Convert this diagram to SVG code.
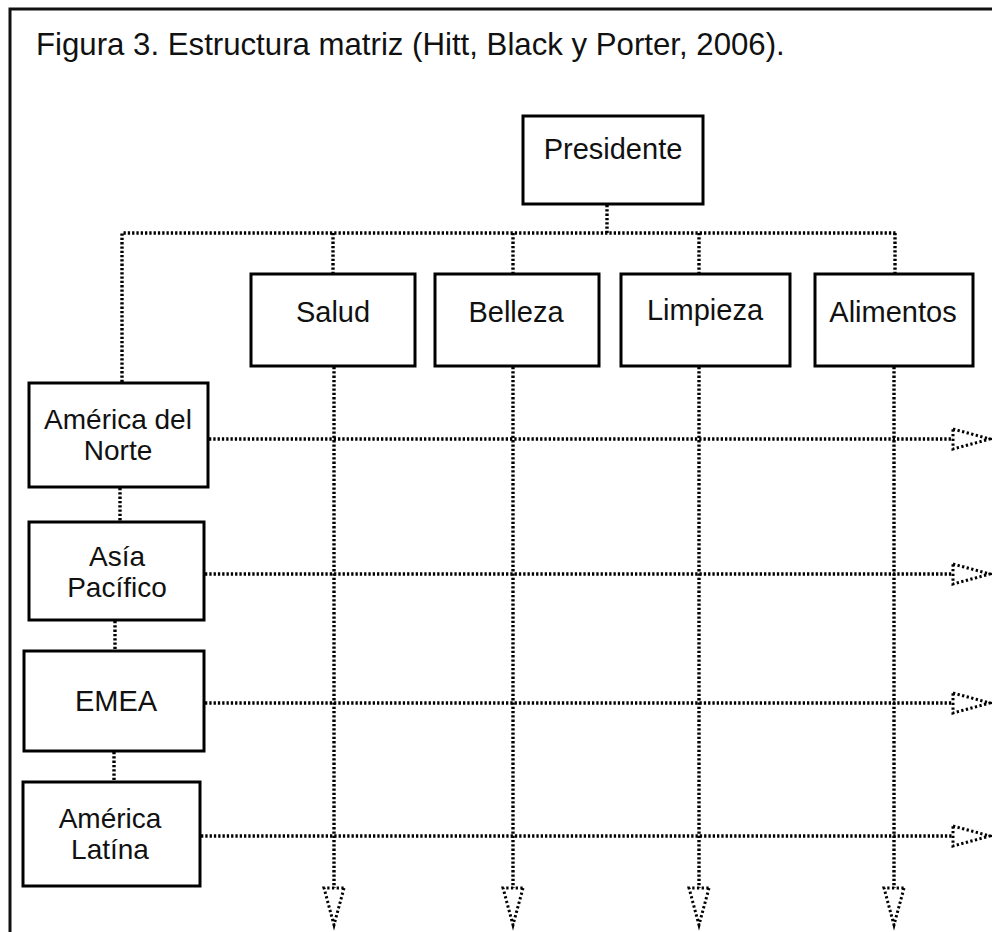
<svg xmlns="http://www.w3.org/2000/svg" xmlns:xlink="http://www.w3.org/1999/xlink" width="992" height="932" viewBox="0 0 992 932">
  <style>
    .box { fill: #fff; stroke: #000; stroke-width: 3; }
    .lbl { font-family: "Liberation Sans", Arial, sans-serif; font-size: 29px; fill: #111; text-anchor: middle; }
    .lbl2 { font-family: "Liberation Sans", Arial, sans-serif; font-size: 28px; fill: #111; text-anchor: middle; }
    .title { font-family: "Liberation Sans", Arial, sans-serif; font-size: 31.2px; fill: #111; }
    .dot { fill: none; stroke: #000; stroke-width: 3.4; stroke-dasharray: 2.3 2; }
    .head { fill: #fff; stroke: #000; stroke-width: 3; stroke-dasharray: 2.3 2.4; }
  </style>
  <defs>
    <!-- open dotted arrowhead, tip at origin, pointing right -->
    <path id="ah" d="M-37,-10 L0,0 L-37,10 Z"/>
  </defs>

  <rect width="992" height="932" fill="#fff"/>
  <!-- frame -->
  <rect x="10" y="9" width="1000" height="1000" fill="none" stroke="#111" stroke-width="3"/>

  <text class="title" x="36" y="55">Figura 3. Estructura matriz (Hitt, Black y Porter, 2006).</text>

  <g id="connectors">
    <!-- hierarchy -->
    <path class="dot" d="M607,205 V233"/>
    <path class="dot" d="M122,382 V233 H897"/>
    <path class="dot" d="M333,233 V273"/>
    <path class="dot" d="M513,233 V273"/>
    <path class="dot" d="M699,233 V273"/>
    <path class="dot" d="M895,233 V273"/>
    <!-- region chain -->
    <path class="dot" d="M120,488 V521"/>
    <path class="dot" d="M115,621 V650"/>
    <path class="dot" d="M114,752 V781"/>
    <!-- product columns -->
    <path class="dot" d="M334,367 V888"/>
    <path class="dot" d="M513,367 V888"/>
    <path class="dot" d="M699,367 V888"/>
    <path class="dot" d="M894,367 V888"/>
    <!-- region rows -->
    <path class="dot" d="M209,439 H954"/>
    <path class="dot" d="M205,574 H954"/>
    <path class="dot" d="M205,703 H954"/>
    <path class="dot" d="M201,836 H954"/>
    <!-- arrowheads -->
    <use xlink:href="#ah" class="head" transform="translate(990,439)"/>
    <use xlink:href="#ah" class="head" transform="translate(990,574)"/>
    <use xlink:href="#ah" class="head" transform="translate(990,703)"/>
    <use xlink:href="#ah" class="head" transform="translate(990,836)"/>
    <use xlink:href="#ah" class="head" transform="translate(334,925) rotate(90)"/>
    <use xlink:href="#ah" class="head" transform="translate(513,925) rotate(90)"/>
    <use xlink:href="#ah" class="head" transform="translate(699,925) rotate(90)"/>
    <use xlink:href="#ah" class="head" transform="translate(894,925) rotate(90)"/>
  </g>

  <g id="presidente">
    <rect class="box" x="523" y="116" width="180" height="88"/>
    <text class="lbl" x="613" y="159">Presidente</text>
  </g>
  <g id="salud">
    <rect class="box" x="251" y="274" width="164" height="92"/>
    <text class="lbl" x="333" y="322">Salud</text>
  </g>
  <g id="belleza">
    <rect class="box" x="435" y="274" width="164" height="92"/>
    <text class="lbl" x="516" y="322">Belleza</text>
  </g>
  <g id="limpieza">
    <rect class="box" x="621" y="274" width="169" height="92"/>
    <text class="lbl" x="705" y="320">Limpieza</text>
  </g>
  <g id="alimentos">
    <rect class="box" x="815" y="274" width="158" height="92"/>
    <text class="lbl" x="893" y="322">Alimentos</text>
  </g>
  <g id="america-norte">
    <rect class="box" x="29" y="383" width="179" height="104"/>
    <text class="lbl2" x="118" y="429">América del</text>
    <text class="lbl2" x="118" y="460">Norte</text>
  </g>
  <g id="asia-pacifico">
    <rect class="box" x="29" y="522" width="175" height="98"/>
    <text class="lbl2" x="117" y="566">Asía</text>
    <text class="lbl2" x="117" y="597">Pacífico</text>
  </g>
  <g id="emea">
    <rect class="box" x="24" y="651" width="180" height="100"/>
    <text class="lbl" x="116" y="711">EMEA</text>
  </g>
  <g id="america-latina">
    <rect class="box" x="23" y="782" width="177" height="104"/>
    <text class="lbl2" x="110" y="828">América</text>
    <text class="lbl2" x="110" y="859">Latína</text>
  </g>
</svg>
